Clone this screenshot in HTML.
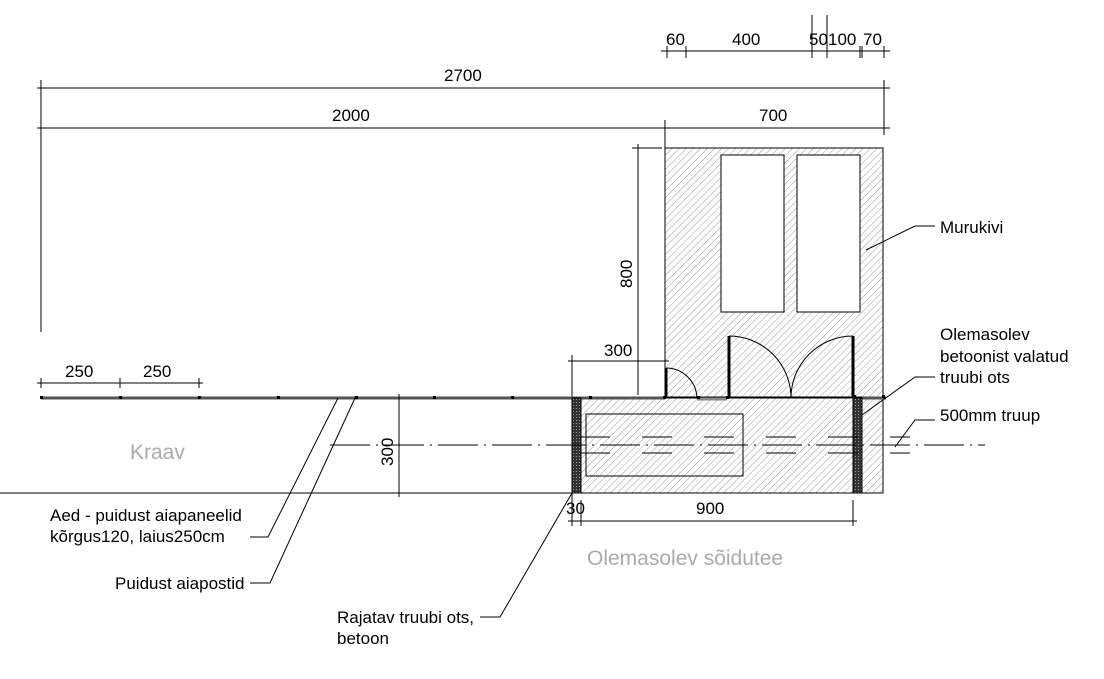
<!DOCTYPE html>
<html><head><meta charset="utf-8"><style>
html,body{margin:0;padding:0;background:#fff;}
svg text{font-family:"Liberation Sans",Arial,sans-serif;font-size:17px;fill:#000;}
</style></head><body>
<svg width="1104" height="674" viewBox="0 0 1104 674" xmlns="http://www.w3.org/2000/svg">
<defs>
<pattern id="h" width="5" height="5" patternUnits="userSpaceOnUse" patternTransform="rotate(45)">
<line x1="0" y1="0" x2="0" y2="5" stroke="#999" stroke-width="1"/>
</pattern>
<pattern id="d" width="3" height="3" patternUnits="userSpaceOnUse">
<rect width="3" height="3" fill="#333"/><rect width="1" height="1" fill="#999"/>
</pattern>
</defs>
<g stroke="#000" stroke-width="1" fill="none">
<rect x="665" y="148" width="218" height="249" fill="url(#h)"/>
<rect x="572" y="397" width="311" height="96" fill="url(#h)"/>
<rect x="721" y="155" width="63" height="157" fill="#fff"/>
<rect x="797" y="155" width="63" height="157" fill="#fff"/>
<rect x="586" y="414" width="157" height="62"/>
<line x1="661" y1="51" x2="890" y2="51"/>
<line x1="667" y1="46" x2="667" y2="58"/><line x1="686" y1="46" x2="686" y2="58"/>
<line x1="812" y1="15" x2="812" y2="58"/><line x1="827" y1="15" x2="827" y2="58"/>
<line x1="860" y1="46" x2="860" y2="58"/><line x1="862" y1="46" x2="862" y2="58"/><line x1="884" y1="46" x2="884" y2="58"/>
<line x1="37" y1="88" x2="890" y2="88"/>
<line x1="41" y1="80" x2="41" y2="332"/>
<line x1="884" y1="80" x2="884" y2="135"/>
<line x1="37" y1="128" x2="890" y2="128"/>
<line x1="665" y1="120" x2="665" y2="148"/>
<line x1="638" y1="144" x2="638" y2="395"/>
<line x1="632" y1="148" x2="662" y2="148"/>
<line x1="568" y1="361" x2="669" y2="361"/>
<line x1="572" y1="355" x2="572" y2="398"/>
<line x1="41" y1="398" x2="665" y2="398" stroke="#555" stroke-width="3"/>
<line x1="665" y1="398" x2="883" y2="398"/>
<line x1="862" y1="398" x2="886" y2="398" stroke="#555" stroke-width="3"/>
<line x1="697" y1="399" x2="727" y2="399" stroke="#888" stroke-width="3"/>
<line x1="666" y1="368" x2="666" y2="398" stroke-width="3"/>
<path d="M666 368 A31 31 0 0 1 697 398"/>
<line x1="729" y1="336" x2="729" y2="398" stroke-width="3"/>
<path d="M729 336 A62 62 0 0 1 791 398"/>
<line x1="853" y1="336" x2="853" y2="398" stroke-width="3"/>
<path d="M853 336 A62 62 0 0 0 791 398"/>
<rect x="572" y="398" width="9" height="95" fill="url(#d)"/>
<rect x="853" y="398" width="9" height="95" fill="url(#d)"/>
<line x1="330" y1="445" x2="985" y2="445" stroke-dasharray="40,6,2,6"/>
<line x1="580" y1="437" x2="910" y2="437" stroke-dasharray="30,32"/>
<line x1="580" y1="453" x2="910" y2="453" stroke-dasharray="30,32"/>
<line x1="0" y1="493" x2="572" y2="493"/>
<line x1="399" y1="394" x2="399" y2="497"/>
<line x1="568" y1="521" x2="857" y2="521"/>
<line x1="581" y1="500" x2="581" y2="526"/>
<line x1="853" y1="500" x2="853" y2="526"/>
<line x1="572" y1="493" x2="572" y2="526"/>
<line x1="37" y1="383" x2="203" y2="383"/>
<line x1="41" y1="378" x2="41" y2="388"/><line x1="120" y1="378" x2="120" y2="388"/><line x1="199" y1="378" x2="199" y2="388"/>
<polyline points="866,250 915,226 935,226"/>
<polyline points="862,415 915,377 935,377"/>
<polyline points="895,447 915,420 935,420"/>
<polyline points="250,537 268,537 338,398"/>
<polyline points="250,583 270,583 355,398"/>
<polyline points="480,617 500,617 572,493"/>
</g>
<g fill="#000">
<rect x="40" y="396" width="3" height="3"/><rect x="119" y="396" width="3" height="3"/><rect x="198" y="396" width="3" height="3"/><rect x="277" y="396" width="3" height="3"/><rect x="355" y="396" width="3" height="3"/><rect x="433" y="396" width="3" height="3"/><rect x="511" y="396" width="3" height="3"/><rect x="589" y="396" width="3" height="3"/><rect x="663" y="396" width="3" height="3"/><rect x="697" y="396" width="3" height="3"/><rect x="726" y="396" width="3" height="3"/><rect x="853" y="395" width="3" height="3"/><rect x="882" y="395" width="3" height="3"/>
</g>
<text x="666" y="45">60</text>
<text x="732" y="45">400</text>
<text x="809" y="45">50</text>
<text x="828" y="45">100</text>
<text x="863" y="45">70</text>
<text x="444" y="81">2700</text>
<text x="332" y="121">2000</text>
<text x="759" y="121">700</text>
<text x="604" y="356">300</text>
<text transform="translate(632,288) rotate(-90)">800</text>
<text transform="translate(393,466) rotate(-90)">300</text>
<text x="65" y="377">250</text>
<text x="143" y="377">250</text>
<text x="566" y="514">30</text>
<text x="696" y="514">900</text>
<text x="940" y="233">Murukivi</text>
<text x="940" y="340">Olemasolev</text>
<text x="940" y="362">betoonist valatud</text>
<text x="940" y="383">truubi ots</text>
<text x="940" y="421">500mm truup</text>
<text x="50" y="521">Aed - puidust aiapaneelid</text>
<text x="50" y="542">kõrgus120, laius250cm</text>
<text x="115" y="589">Puidust aiapostid</text>
<text x="337" y="623">Rajatav truubi ots,</text>
<text x="337" y="644">betoon</text>
<text x="130" y="459" style="font-size:21px;fill:#aaa">Kraav</text>
<text x="587" y="565" style="font-size:21px;fill:#aaa">Olemasolev sõidutee</text>
</svg>
</body></html>
